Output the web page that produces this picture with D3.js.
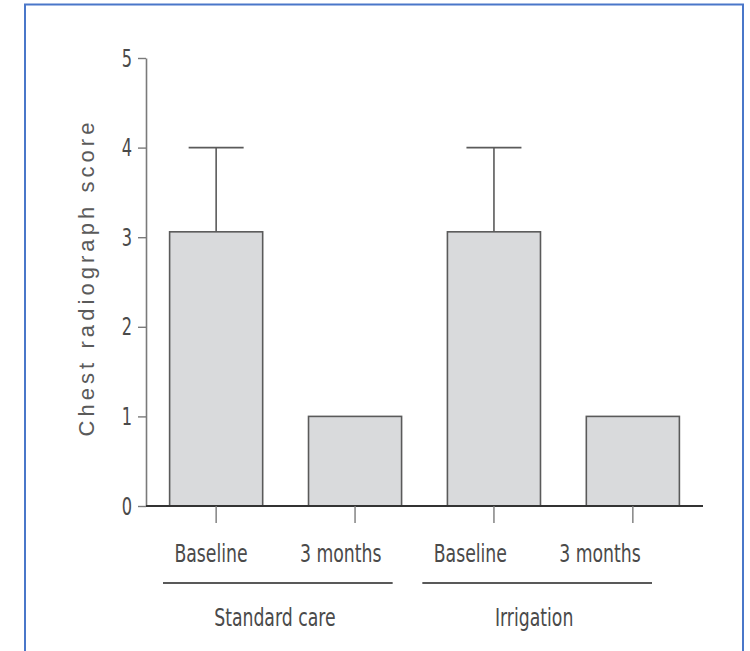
<!DOCTYPE html>
<html>
<head>
<meta charset="utf-8">
<script src="https://cdn.jsdelivr.net/npm/d3@7/dist/d3.min.js"></script>
<style>
  html, body { margin: 0; padding: 0; background: #fff; }
  svg { display: block; }
  .narrow { font-family: "DejaVu Sans Condensed", "Liberation Sans Narrow", "Roboto", sans-serif; }
</style>
</head>
<body>
<svg id="chart" width="750" height="651"></svg>
<script>
// Chest radiograph scores, standard care vs irrigation
const categories = ["Baseline", "3 months", "Baseline ", "3 months "];
const categoryLabels = ["Baseline", "3 months", "Baseline", "3 months"];
const meanScores = [3.06, 1.0, 3.06, 1.0];
const upperErrors = [4.0, null, 4.0, null];
const groups = ["Standard care", "Irrigation"];
const groupMembers = [[0, 1], [2, 3]];
const yTicks = [0, 1, 2, 3, 4, 5];
const yTitle = "Chest radiograph score";

const svg = d3.select("#chart");

// outer frame
svg.append("rect")
  .attr("x", 25).attr("y", 4.5)
  .attr("width", 718).attr("height", 700)
  .attr("fill", "none")
  .attr("stroke", "#4a77c9")
  .attr("stroke-width", 2);

const x = d3.scaleBand()
  .domain(categories)
  .range([146, 703])
  .paddingInner(0.33)
  .paddingOuter(0.17);

const y = d3.scaleLinear().domain([0, 5]).range([506, 58]);

// label positions sit slightly left of the bar centres
const labelX = d3.scalePoint().domain(categories).range([211, 600]);

const barStroke = "#5a5a5a";
const textColor = "#4a4a4a";

// condensed text helper: horizontal squeeze around the anchor point
function squeezed(sel, px, py, sx) {
  return sel.attr("x", 0).attr("y", 0)
    .attr("transform", `translate(${px},${py}) scale(${sx},1)`);
}

// bars
svg.append("g").selectAll("rect")
  .data(categories)
  .join("rect")
  .attr("x", d => x(d))
  .attr("y", (d, i) => y(meanScores[i]))
  .attr("width", x.bandwidth())
  .attr("height", (d, i) => y(0) - y(meanScores[i]))
  .attr("fill", "#d9dadc")
  .attr("stroke", barStroke)
  .attr("stroke-width", 1.6);

// error bars (upper only)
const errG = svg.append("g").attr("stroke", barStroke).attr("stroke-width", 1.6);
categories.forEach((c, i) => {
  if (upperErrors[i] == null) return;
  const cx = x(c) + x.bandwidth() / 2;
  errG.append("line")
    .attr("x1", cx).attr("x2", cx)
    .attr("y1", y(meanScores[i])).attr("y2", y(upperErrors[i]));
  errG.append("line")
    .attr("x1", cx - 27.5).attr("x2", cx + 27.5)
    .attr("y1", y(upperErrors[i])).attr("y2", y(upperErrors[i]));
});

// y axis
const yAxis = svg.append("g")
  .attr("transform", "translate(146,0)")
  .call(d3.axisLeft(y).tickValues(yTicks).tickFormat(d3.format("d")).tickSize(8).tickSizeOuter(0));
yAxis.select(".domain").attr("stroke", "#7a7a7a").attr("stroke-width", 1.6);
yAxis.selectAll(".tick line").attr("stroke", "#7a7a7a").attr("stroke-width", 1.4);
yAxis.selectAll(".tick text")
  .attr("class", "narrow")
  .attr("x", 0)
  .attr("dy", null)
  .attr("transform", "translate(-14,8) scale(0.75,1)")
  .attr("fill", textColor)
  .style("font-size", "24px");

// x axis baseline and ticks
const xAxis = svg.append("g")
  .attr("transform", `translate(0,${y(0)})`)
  .call(d3.axisBottom(x).tickSize(17).tickSizeOuter(0).tickFormat(""));
xAxis.select(".domain").attr("stroke", "#333").attr("stroke-width", 1.8)
  .attr("d", `M146,0H703`);
xAxis.selectAll(".tick line").attr("stroke", "#7a7a7a").attr("stroke-width", 1.4);

// category labels
svg.append("g").selectAll("text")
  .data(categories)
  .join("text")
  .attr("class", "narrow")
  .each(function (d) { squeezed(d3.select(this), labelX(d), 562, 0.8); })
  .attr("text-anchor", "middle")
  .attr("fill", textColor)
  .style("font-size", "24px")
  .text((d, i) => categoryLabels[i]);

// group brackets and labels
groups.forEach((g, gi) => {
  const members = groupMembers[gi].map(i => categories[i]);
  const x0 = labelX(members[0]) - 48;
  const x1 = labelX(members[members.length - 1]) + 52;
  svg.append("line")
    .attr("x1", x0).attr("x2", x1)
    .attr("y1", 583).attr("y2", 583)
    .attr("stroke", "#222").attr("stroke-width", 1.6);
  squeezed(svg.append("text"), (x0 + x1) / 2 - 3, 626, 0.8)
    .attr("class", "narrow")
    .attr("text-anchor", "middle")
    .attr("fill", textColor)
    .style("font-size", "24px")
    .text(g);
});

// y axis title
svg.append("text")
  .attr("transform", `translate(94,${(122 + 437) / 2}) rotate(-90)`)
  .attr("text-anchor", "middle")
  .attr("fill", "#5a5a5a")
  .attr("textLength", 314)
  .attr("lengthAdjust", "spacing")
  .style("font-family", "'Liberation Sans', Arial, sans-serif")
  .style("font-size", "22px")
  .text(yTitle);
</script>
</body>
</html>
